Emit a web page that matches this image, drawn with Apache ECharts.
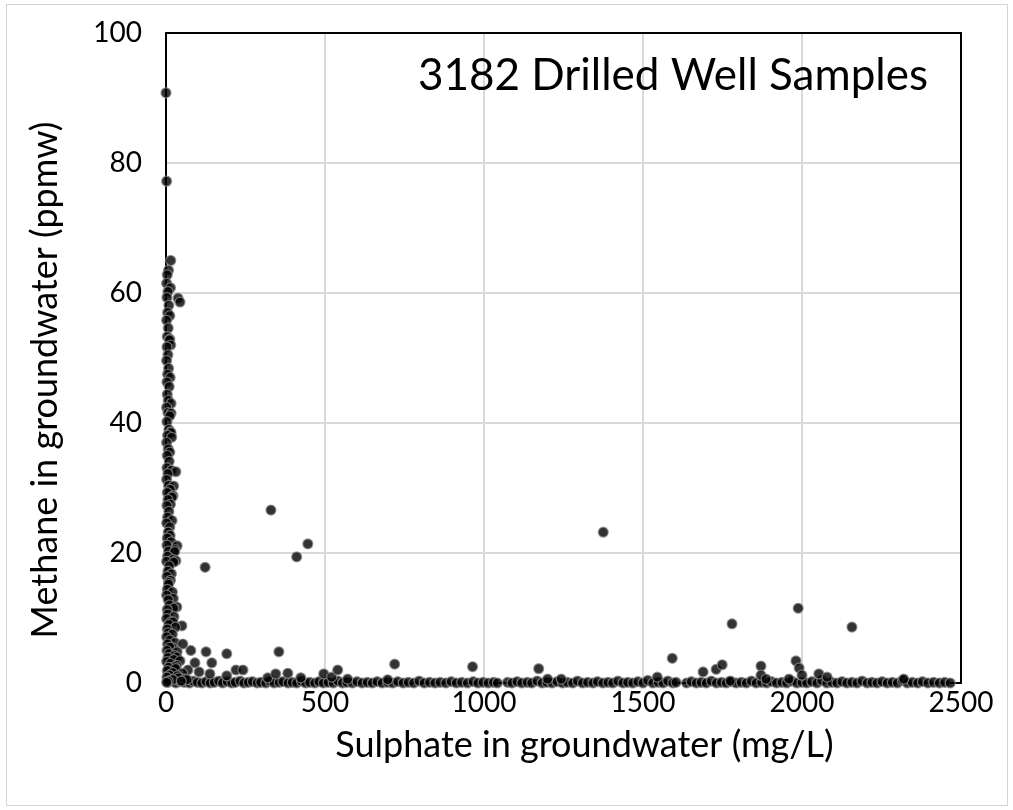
<!DOCTYPE html>
<html>
<head>
<meta charset="utf-8">
<script src="https://cdn.jsdelivr.net/npm/echarts@6/dist/echarts.min.js"></script>
<style>
  html, body { margin: 0; padding: 0; background: #fff; }
  #frame {
    position: absolute; left: 6px; top: 4px; width: 1000px; height: 800px;
    border: 1px solid #d4d4d4;
  }
  #chart { position: absolute; left: 0; top: 0; width: 1013px; height: 810px; }
</style>
</head>
<body>
<div id="frame"></div>
<div id="chart"></div>
<script>
// values: [sulphate mg/L, methane ppmw]
const xTicks = [0, 500, 1000, 1500, 2000, 2500];
const yTicks = [0, 20, 40, 60, 80, 100];

// the tall stack next to the y axis
const columnPoints = [
  [0, 90.8], [2, 77.2], [15, 65], [8, 63.5], [4, 62.8], [2, 61.5], [14, 60.8], [6, 60.2],
  [3, 59.3], [38, 59.2], [44, 58.6], [9, 58.1], [5, 57], [12, 56.5], [2, 55.8], [7, 54.6],
  [4, 53.3], [12, 52.9], [11, 52.8], [15, 52], [3, 51.7], [6, 50.5], [2, 49.6], [8, 48.4],
  [5, 47.5], [13, 47], [3, 46.3], [10, 45.6], [4, 44.4], [7, 43.5], [16, 43], [2, 42.4],
  [6, 41.6], [16, 41.5], [12, 41.1], [3, 40.2], [9, 39], [14, 38.6], [16, 38.5], [5, 38.1],
  [18, 37.8], [2, 37], [7, 36], [12, 35.5], [4, 35], [10, 34.1], [3, 33.1], [17, 32.7],
  [31, 32.5], [6, 32.2], [2, 31.3], [8, 30.4], [24, 30.3], [13, 29.8], [4, 29.3], [22, 28.8],
  [19, 28.6], [6, 28.2], [14, 27.5], [3, 27.3], [9, 26.4], [5, 25.5], [19, 25], [2, 24.6],
  [12, 24], [7, 23.2], [13, 22.7], [4, 22.3], [16, 21.7], [3, 21.2], [35, 21.1], [28, 20.5],
  [8, 20.3], [27, 20.2], [5, 19.5], [21, 19], [31, 18.8], [2, 18.7], [24, 18.6], [10, 18],
  [6, 17.2], [17, 16.8], [3, 16.4], [14, 15.8], [8, 15.5], [8, 15.2], [4, 14.4], [20, 14],
  [2, 13.5], [23, 13], [7, 12.8], [11, 12], [34, 11.7], [24, 11.5], [4, 11.3], [6, 10.6],
  [25, 10.2], [2, 9.9], [15, 9.4], [22, 9.4], [9, 9], [50, 8.8], [30, 8.6], [4, 8.3],
  [7, 7.7], [20, 7.5], [2, 7.1], [12, 6.6], [28, 6.2], [5, 6], [53, 6], [19, 5.5],
  [12, 5.5], [3, 5], [35, 4.8], [9, 4.5], [26, 4.2], [34, 4], [6, 3.9], [24, 3.6],
  [44, 3.4], [2, 3.3], [14, 3], [33, 2.7], [28, 2.5], [8, 2.4], [30, 2.2], [69, 2],
  [4, 1.9], [21, 1.6], [52, 1.5], [11, 1.2], [36, 1.1], [3, 0.9], [40, 0.8], [60, 0.6],
  [16, 0.5], [22, 0.5], [66, 0.5], [7, 0.3], [48, 0.3], [2, 0.1]
];

// scattered points away from the axis
const scatterPoints = [
  [123, 17.8], [78, 5], [126, 4.8], [191, 4.5], [91, 3.1], [144, 3.1], [220, 2], [242, 2],
  [104, 1.7], [138, 1.4], [191, 1.1], [320, 0.8], [330, 26.6], [411, 19.4], [446, 21.4],
  [355, 4.8], [345, 1.4], [383, 1.5], [424, 0.8], [496, 1.4], [521, 0.9], [540, 2],
  [571, 0.6], [719, 2.9], [697, 0.5], [964, 2.5], [1172, 2.2], [1200, 0.6], [1243, 0.6],
  [1375, 23.2], [1545, 0.9], [1592, 3.8], [1689, 1.7], [1730, 2.1], [1749, 2.8],
  [1774, 0.3], [1780, 9.1], [1871, 2.6], [1871, 1.2], [1887, 0.6], [1959, 0.6],
  [1981, 3.4], [1988, 11.5], [1991, 2.3], [2000, 1.2], [2053, 1.4], [2079, 0.9],
  [2157, 8.6], [2320, 0.6]
];

// the row of low values along the x axis
const bottomRow = [
  [6, 0.1], [19, 0.3], [31, 0], [47, 0.2], [58, 0.1], [74, 0], [85, 0.3], [99, 0.1],
  [113, 0], [126, 0.2], [139, 0], [152, 0.1], [166, 0.3], [178, 0], [193, 0.2], [207, 0],
  [218, 0.1], [233, 0.3], [245, 0], [259, 0.1], [272, 0.2], [287, 0], [298, 0.1], [314, 0],
  [327, 0.3], [340, 0], [356, 0.1], [368, 0.2], [384, 0], [397, 0.1], [411, 0], [426, 0.3],
  [439, 0], [452, 0.1], [468, 0], [481, 0.2], [495, 0], [510, 0.1], [526, 0], [541, 0.3],
  [555, 0], [569, 0.1], [586, 0], [601, 0.2], [617, 0], [633, 0.1], [649, 0], [664, 0.2],
  [680, 0], [697, 0.1], [713, 0], [729, 0.2], [746, 0], [762, 0.1], [779, 0], [796, 0.3],
  [812, 0], [829, 0.1], [846, 0], [862, 0.1], [880, 0], [897, 0.2], [913, 0], [930, 0.1],
  [948, 0], [966, 0.2], [981, 0], [997, 0.1], [1013, 0], [1030, 0.1], [1042, 0], [1074, 0.1],
  [1088, 0], [1104, 0.2], [1119, 0], [1136, 0.1], [1150, 0], [1167, 0.3], [1183, 0],
  [1198, 0.1], [1214, 0], [1230, 0.2], [1247, 0], [1262, 0.1], [1279, 0], [1294, 0.3],
  [1310, 0], [1326, 0.1], [1343, 0], [1357, 0.2], [1374, 0], [1390, 0.1], [1405, 0],
  [1421, 0.3], [1437, 0], [1452, 0.1], [1468, 0], [1484, 0.2], [1500, 0], [1515, 0.4],
  [1531, 0], [1548, 0.1], [1563, 0], [1578, 0.3], [1594, 0], [1604, 0.1], [1637, 0],
  [1652, 0.2], [1668, 0], [1683, 0.1], [1699, 0], [1715, 0.3], [1731, 0], [1747, 0.1],
  [1762, 0], [1778, 0.2], [1793, 0], [1809, 0.1], [1825, 0], [1841, 0.3], [1856, 0],
  [1873, 0.1], [1889, 0], [1904, 0.2], [1920, 0], [1937, 0.1], [1952, 0], [1968, 0.3],
  [1984, 0], [2000, 0.1], [2015, 0], [2031, 0.2], [2047, 0], [2062, 0.4], [2078, 0],
  [2094, 0.1], [2110, 0], [2126, 0.2], [2141, 0], [2157, 0.1], [2173, 0], [2189, 0.3],
  [2205, 0], [2220, 0.1], [2236, 0], [2252, 0.2], [2268, 0], [2284, 0.1], [2300, 0],
  [2316, 0.4], [2331, 0], [2347, 0.1], [2364, 0], [2379, 0.2], [2396, 0], [2414, 0.1],
  [2432, 0], [2449, 0.1], [2466, 0]
];

const font = 'Lato, "Open Sans", sans-serif';
const chart = echarts.init(document.getElementById('chart'));

// thin black frame lines for top and right edges
const frameAxis = {
  axisLine: { show: true, onZero: false, lineStyle: { color: '#000', width: 2 } },
  axisTick: { show: false },
  axisLabel: { show: false },
  splitLine: { show: false }
};

chart.setOption({
  animation: false,
  title: {
    text: '3182 Drilled Well Samples',
    right: 80,
    top: 49,
    textStyle: { fontFamily: font, fontSize: 44, fontWeight: 'normal', color: '#000' }
  },
  grid: { left: 166, right: 52, top: 33, bottom: 127 },
  xAxis: [
    {
      type: 'value',
      min: xTicks[0], max: xTicks[xTicks.length - 1], interval: 500,
      name: 'Sulphate in groundwater (mg/L)',
      nameLocation: 'middle', nameGap: 44,
      nameTextStyle: { fontFamily: font, fontSize: 36, color: '#000', padding: [0, 0, 0, 42] },
      axisLine: { show: true, lineStyle: { color: '#000', width: 2 } },
      axisTick: { show: false },
      axisLabel: { fontFamily: font, fontSize: 28, color: '#000', margin: 6, formatter: v => String(v) },
      splitLine: { show: true, lineStyle: { color: '#d9d9d9', width: 2 } }
    },
    Object.assign({ type: 'value', position: 'top', min: 0, max: 2500 }, frameAxis)
  ],
  yAxis: [
    {
      type: 'value',
      min: yTicks[0], max: yTicks[yTicks.length - 1], interval: 20,
      name: 'Methane in groundwater (ppmw)',
      nameLocation: 'middle', nameGap: 103,
      nameTextStyle: { fontFamily: font, fontSize: 36, color: '#000', padding: [0, 44, 0, 0] },
      axisLine: { show: true, lineStyle: { color: '#000', width: 2 } },
      axisTick: { show: false },
      axisLabel: { fontFamily: font, fontSize: 28, color: '#000', margin: 24 },
      splitLine: { show: true, lineStyle: { color: '#d9d9d9', width: 2 } }
    },
    Object.assign({ type: 'value', position: 'right', min: 0, max: 100 }, frameAxis)
  ],
  series: [
    {
      type: 'scatter',
      clip: false,
      symbolSize: 10,
      itemStyle: { color: '#000', borderColor: '#8a8a8a', borderWidth: 1.2 },
      data: bottomRow.concat(scatterPoints, columnPoints)
    }
  ]
});
</script>
</body>
</html>
